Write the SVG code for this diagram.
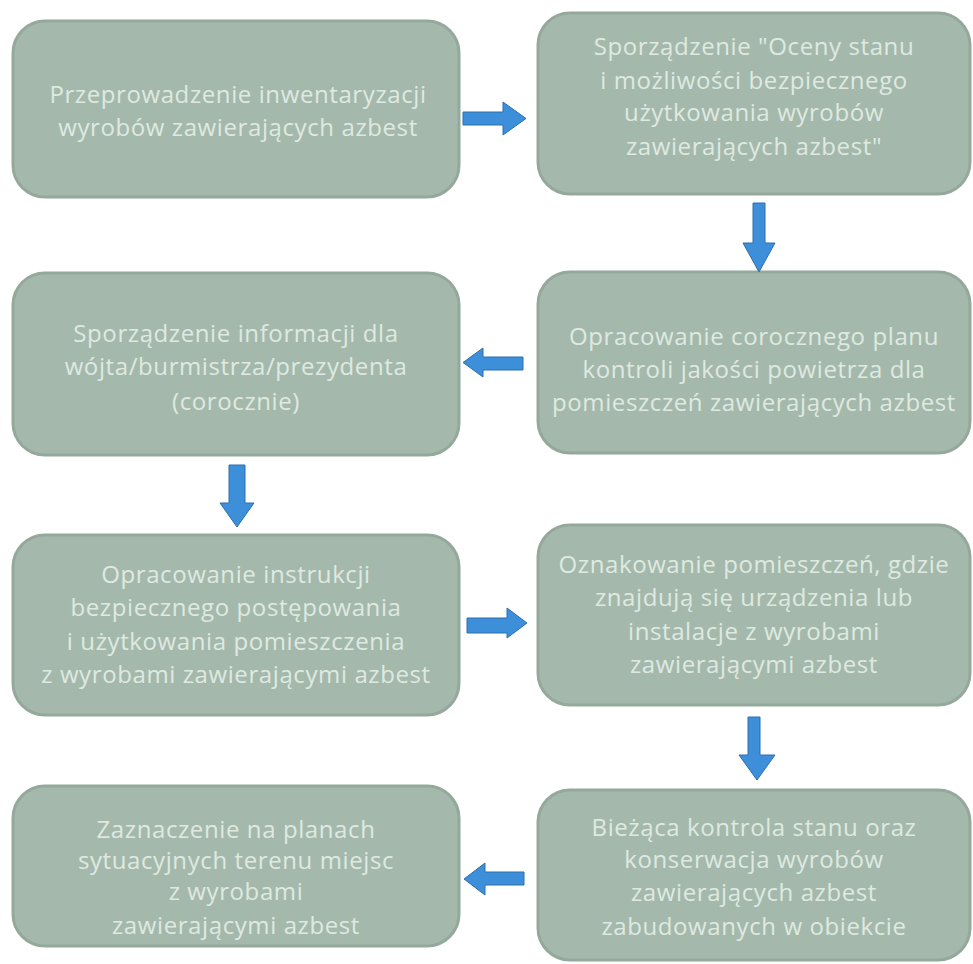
<svg xmlns="http://www.w3.org/2000/svg" width="973" height="964" viewBox="0 0 973 964">
<style>
.box{fill:#a4b9ac;stroke:#94a99c;stroke-width:3}
.t{font-family:"Open Sans","Noto Sans",sans-serif;font-size:24px;letter-spacing:0.6px;fill:#dfe9e1;text-anchor:middle}
.arr{fill:#3c8fd8;stroke:#2c6fae;stroke-width:1}
</style>
<rect width="973" height="964" fill="#ffffff"/>
<g id="n1"><rect class="box" x="13" y="21" width="446" height="176" rx="32"/>
<text class="t"><tspan x="238" y="103">Przeprowadzenie inwentaryzacji</tspan><tspan x="238" y="136">wyrobów zawierających azbest</tspan></text></g>
<g id="n2"><rect class="box" x="538" y="13" width="432" height="181" rx="32"/>
<text class="t"><tspan x="754" y="55">Sporządzenie "Oceny stanu</tspan><tspan x="754" y="89">i możliwości bezpiecznego</tspan><tspan x="754" y="121">użytkowania wyrobów</tspan><tspan x="754" y="155">zawierających azbest"</tspan></text></g>
<g id="n3"><rect class="box" x="13" y="273" width="446" height="182" rx="32"/>
<text class="t"><tspan x="236" y="342">Sporządzenie informacji dla</tspan><tspan x="236" y="375">wójta/burmistrza/prezydenta</tspan><tspan x="236" y="410">(corocznie)</tspan></text></g>
<g id="n4"><rect class="box" x="538" y="272" width="432" height="181" rx="32"/>
<text class="t"><tspan x="754" y="345">Opracowanie corocznego planu</tspan><tspan x="754" y="378">kontroli jakości powietrza dla</tspan><tspan x="754" y="411">pomieszczeń zawierających azbest</tspan></text></g>
<g id="n5"><rect class="box" x="13" y="535" width="446" height="180" rx="32"/>
<text class="t"><tspan x="236" y="583">Opracowanie instrukcji</tspan><tspan x="236" y="616">bezpiecznego postępowania</tspan><tspan x="236" y="650">i użytkowania pomieszczenia</tspan><tspan x="236" y="683">z wyrobami zawierającymi azbest</tspan></text></g>
<g id="n6"><rect class="box" x="538" y="525" width="432" height="180" rx="32"/>
<text class="t"><tspan x="754" y="573">Oznakowanie pomieszczeń, gdzie</tspan><tspan x="754" y="606">znajdują się urządzenia lub</tspan><tspan x="754" y="640">instalacje z wyrobami</tspan><tspan x="754" y="673">zawierającymi azbest</tspan></text></g>
<g id="n7"><rect class="box" x="13" y="786" width="446" height="160" rx="32"/>
<text class="t"><tspan x="236" y="838">Zaznaczenie na planach</tspan><tspan x="236" y="869">sytuacyjnych terenu miejsc</tspan><tspan x="236" y="900">z wyrobami</tspan><tspan x="236" y="934">zawierającymi azbest</tspan></text></g>
<g id="n8"><rect class="box" x="538" y="790" width="432" height="170" rx="32"/>
<text class="t"><tspan x="754" y="836">Bieżąca kontrola stanu oraz</tspan><tspan x="754" y="868">konserwacja wyrobów</tspan><tspan x="754" y="901">zawierających azbest</tspan><tspan x="754" y="935">zabudowanych w obiekcie</tspan></text></g>
<g id="connectors">
<polygon class="arr" points="463,112 503,112 503,102 526,118.5 503,135 503,125 463,125"/>
<polygon class="arr" points="753,203 765,203 765,243 775,243 759,272 743,243 753,243"/>
<polygon class="arr" points="523,357 483,357 483,348 463,362.5 483,377 483,370 523,370"/>
<polygon class="arr" points="229,465 245,465 245,503 254,503 237,527 220,503 229,503"/>
<polygon class="arr" points="467,618 507,618 507,608 527,623 507,638 507,633 467,633"/>
<polygon class="arr" points="748,717 760,717 760,755 775,755 757,780 739,755 748,755"/>
<polygon class="arr" points="524,872 485,872 485,863 464,879 485,895 485,885 524,885"/>
</g>
</svg>
